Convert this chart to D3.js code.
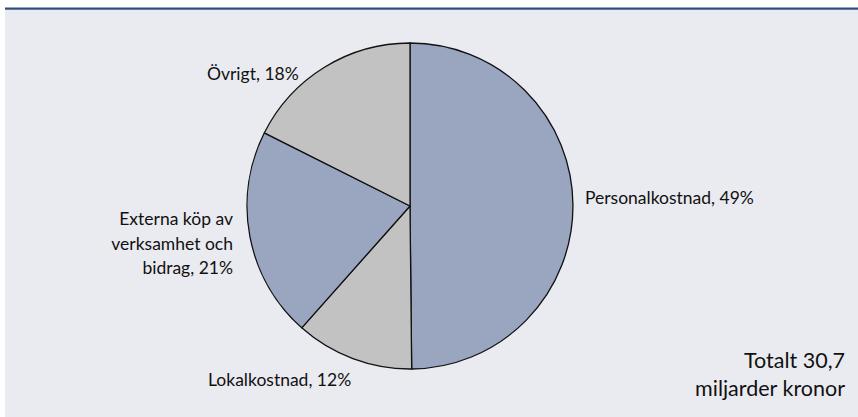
<!DOCTYPE html>
<html><head><meta charset="utf-8">
<script src="https://cdn.jsdelivr.net/npm/d3@7"></script>
<style>html,body{margin:0;padding:0;background:#fff;}svg{display:block;}</style>
</head><body>
<svg id="c" width="858" height="417"></svg>
<script>
const categories = ["Personalkostnad", "Lokalkostnad", "Externa köp av verksamhet och bidrag", "Övrigt"];
const values = [15.3, 3.6, 6.4, 5.4]; // miljarder kronor
const percentLabels = ["49%", "12%", "21%", "18%"];
const labelLines = [
  ["Personalkostnad, 49%"],
  ["Lokalkostnad, 12%"],
  ["Externa köp av", "verksamhet och", "bidrag, 21%"],
  ["Övrigt, 18%"]
];
const colors = ["#9aa5c0", "#c2c2c2", "#9aa5c0", "#c2c2c2"];
const totalLines = ["Totalt 30,7", "miljarder kronor"];

const svg = d3.select("#c");
const W = 858, H = 417;
const font = "Lato, 'Open Sans', sans-serif";

svg.append("rect").attr("x", 5).attr("y", 9).attr("width", W - 5).attr("height", H - 9).attr("fill", "#eaebf0");
svg.append("rect").attr("x", 5).attr("y", 7.5).attr("width", W - 5).attr("height", 2.2).attr("fill", "#2f4a7c");

const cx = 410, cy = 206, r = 163;
const pie = d3.pie().sort(null).value(d => d);
const arcs = pie(values);
const arc = d3.arc().innerRadius(0).outerRadius(r);
const g = svg.append("g").attr("transform", `translate(${cx},${cy})`);
g.selectAll("path").data(arcs).join("path")
  .attr("d", arc).attr("fill", (d, i) => colors[i])
  .attr("stroke", "#111").attr("stroke-width", 1.3).attr("stroke-linejoin", "round");

const labelPos = [
  {x: 585, y: 204, anchor: "start"},
  {x: 208, y: 386, anchor: "start"},
  {x: 233, y: 225, anchor: "end"},
  {x: 207, y: 80, anchor: "start"}
];
labelLines.forEach((lines, i) => {
  const p = labelPos[i];
  const t = svg.append("text").attr("x", p.x).attr("y", p.y)
    .attr("text-anchor", p.anchor).attr("font-family", font)
    .attr("font-size", 17.5).attr("fill", "#111");
  lines.forEach((l, j) => t.append("tspan").attr("x", p.x).attr("dy", j === 0 ? 0 : 24.5).text(l));
});

const tt = svg.append("text").attr("x", 845).attr("y", 368).attr("text-anchor", "end")
  .attr("font-family", font).attr("font-size", 21.5).attr("fill", "#111");
totalLines.forEach((l, j) => tt.append("tspan").attr("x", 845).attr("dy", j === 0 ? 0 : 28).text(l));
</script>
</body></html>
